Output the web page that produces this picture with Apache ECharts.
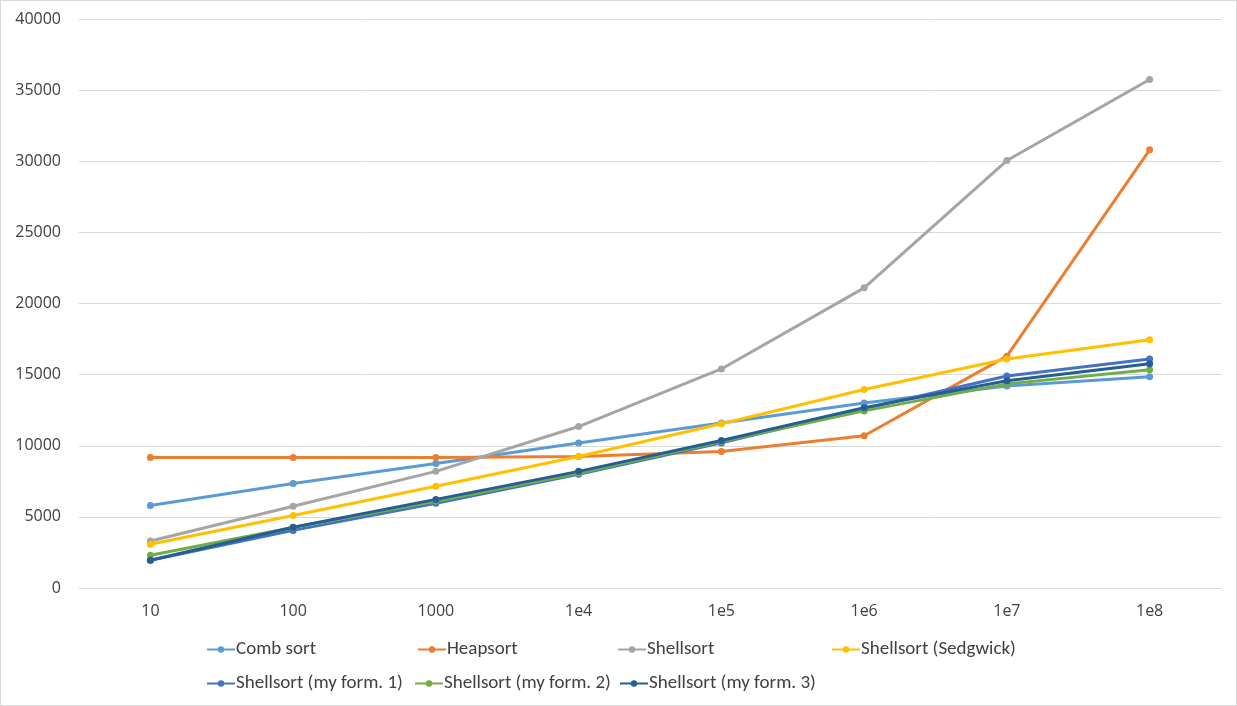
<!DOCTYPE html>
<html><head><meta charset="utf-8">
<script src="https://cdn.jsdelivr.net/npm/echarts@6/dist/echarts.min.js"></script>
<style>html,body{margin:0;padding:0;background:#fff}#c{width:1237px;height:706px;box-sizing:border-box;border:1px solid #d9d9d9}</style>
</head><body><div id="c"></div>
<script>
const categories = ['10','100','1000','1e4','1e5','1e6','1e7','1e8'];
const combSort   = [5800, 7350, 8750, 10200, 11600, 13000, 14200, 14850];
const heapsort   = [9170, 9170, 9170, 9250, 9600, 10700, 16300, 30800];
const shellsort  = [3300, 5750, 8200, 11350, 15400, 21100, 30050, 35750];
const sedgwick   = [3080, 5100, 7150, 9250, 11550, 13950, 16100, 17450];
const myForm1    = [1950, 4050, 5950, 8000, 10200, 12600, 14900, 16100];
const myForm2    = [2300, 4250, 6100, 8060, 10300, 12450, 14350, 15350];
const myForm3    = [1950, 4270, 6230, 8200, 10370, 12680, 14570, 15760];
const seriesNames = ['Comb sort','Heapsort','Shellsort','Shellsort (Sedgwick)','Shellsort (my form. 1)','Shellsort (my form. 2)','Shellsort (my form. 3)'];
const seriesData = [combSort, heapsort, shellsort, sedgwick, myForm1, myForm2, myForm3];
const colors = ['#5B9BD5','#ED7D31','#A5A5A5','#FFC000','#4472C4','#70AD47','#255E91'];

const font = 'Carlito, Calibri, "Liberation Sans Narrow", "Open Sans", sans-serif';
const legendPos = [[205,639],[416,639],[616,639],[830,639],[205,673],[413,673],[618,673]];

const chart = echarts.init(document.getElementById('c'), null, {renderer:'canvas'});
chart.setOption({
  animation:false,
  color: colors,
  grid:{left:78,right:15,top:18,bottom:117,containLabel:false},
  legend: seriesNames.map((n,i)=>({
    data:[n], left:legendPos[i][0], top:legendPos[i][1], padding:0,
    itemWidth:28, itemHeight:8, itemGap:4,
    textStyle:{fontFamily:font,fontSize:19,color:'#404040',padding:[0,0,0,-4]}
  })),
  xAxis:{type:'category',data:categories,boundaryGap:true,
    axisLine:{lineStyle:{color:'#d9d9d9',width:1}},axisTick:{show:false},
    axisLabel:{fontFamily:'"Open Sans","DejaVu Sans",sans-serif',fontSize:16,color:'#404040',margin:15}},
  yAxis:{type:'value',min:0,max:40000,interval:5000,
    axisLine:{show:false},axisTick:{show:false},
    splitLine:{lineStyle:{color:'#d9d9d9',width:1}},
    axisLabel:{fontFamily:'"Open Sans","DejaVu Sans",sans-serif',fontSize:16,color:'#404040',margin:18,
      formatter:v=>String(v)}},
  series: seriesNames.map((n,i)=>({
    name:n,type:'line',data:seriesData[i],
    symbol:'circle',symbolSize:7,
    lineStyle:{width:3,color:colors[i]},
    itemStyle:{color:colors[i]}
  }))
});
</script></body></html>
